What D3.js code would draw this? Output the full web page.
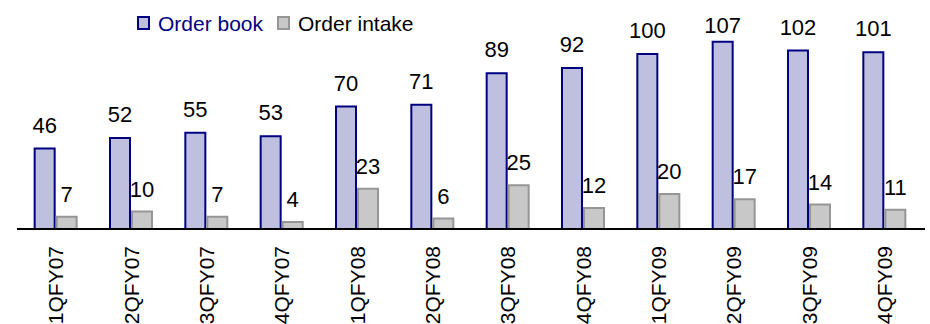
<!DOCTYPE html>
<html>
<head>
<meta charset="utf-8">
<script src="https://cdn.jsdelivr.net/npm/d3@7"></script>
<style>
  html, body { margin: 0; padding: 0; background: #fff; }
  svg { display: block; font-family: "Liberation Sans", Arial, sans-serif; }
</style>
</head>
<body>
<svg id="chart" width="930" height="324"></svg>
<script>
// Quarterly order book vs order intake
const quarters = ["1QFY07","2QFY07","3QFY07","4QFY07","1QFY08","2QFY08","3QFY08","4QFY08","1QFY09","2QFY09","3QFY09","4QFY09"];
const orderBook = [46, 52, 55, 53, 70, 71, 89, 92, 100, 107, 102, 101];
const orderIntake = [7, 10, 7, 4, 23, 6, 25, 12, 20, 17, 14, 11];
const seriesNames = ["Order book", "Order intake"];

const baseY = 229;
const svg = d3.select("#chart");

const styles = {
  "Order book": { fill: "#bfc0e0", stroke: "#000080", text: "#000080" },
  "Order intake": { fill: "#c8c8c8", stroke: "#969696", text: "#000000" }
};

const x0 = d3.scaleBand().domain(quarters).range([18, 922]).padding(0);
const bw = x0.bandwidth();
const x1 = d3.scaleBand().domain(seriesNames).range([bw / 2 - 22, bw / 2 + 22]).padding(0);
const y = d3.scaleLinear().domain([0, 120]).range([baseY, 19]);

const rows = quarters.map((q, i) => ({ q, vals: [orderBook[i], orderIntake[i]] }));

const groups = svg.append("g").selectAll("g")
  .data(rows).join("g")
  .attr("transform", d => `translate(${x0(d.q)},0)`);

// bars
groups.selectAll("rect")
  .data(d => seriesNames.map((s, j) => ({ s, v: d.vals[j] })))
  .join("rect")
  .attr("x", d => x1(d.s) + 1)
  .attr("width", x1.bandwidth() - 2)
  .attr("y", d => y(d.v))
  .attr("height", d => baseY - y(d.v))
  .attr("fill", d => styles[d.s].fill)
  .attr("stroke", d => styles[d.s].stroke)
  .attr("stroke-width", 2);

// value labels
groups.selectAll("text.val")
  .data(d => seriesNames.map((s, j) => ({ s, v: d.vals[j] })))
  .join("text")
  .attr("class", "val")
  .attr("x", d => x1(d.s) + x1.bandwidth() / 2)
  .attr("y", d => d.s === "Order book" ? Math.max(y(d.v) - 16, 33) : y(d.v) - 15)
  .attr("text-anchor", "middle")
  .attr("font-size", 22)
  .attr("fill", "#000")
  .text(d => d.v);

// category axis
const xAxis = svg.append("g")
  .attr("transform", `translate(0,${baseY})`)
  .call(d3.axisBottom(x0).tickSize(0).tickPadding(0));
xAxis.select(".domain").attr("d", `M17,0H925`).attr("stroke", "#000").attr("stroke-width", 2);
xAxis.selectAll(".tick text")
  .attr("font-size", 21)
  .attr("font-family", "Liberation Sans, Arial, sans-serif")
  .attr("fill", "#000")
  .attr("text-anchor", "end")
  .attr("transform", "rotate(-90)")
  .attr("x", -17)
  .attr("y", 0)
  .attr("dy", "0.36em");

// legend
const legend = svg.append("g");
const legendPos = [{ sx: 138, tx: 158 }, { sx: 278, tx: 298 }];
seriesNames.forEach((s, i) => {
  legend.append("rect")
    .attr("x", legendPos[i].sx).attr("y", 17)
    .attr("width", 11).attr("height", 12)
    .attr("fill", styles[s].fill)
    .attr("stroke", styles[s].stroke)
    .attr("stroke-width", 2);
  legend.append("text")
    .attr("x", legendPos[i].tx).attr("y", 31)
    .attr("font-size", 21)
    .attr("fill", styles[s].text)
    .text(s);
});
</script>
</body>
</html>
